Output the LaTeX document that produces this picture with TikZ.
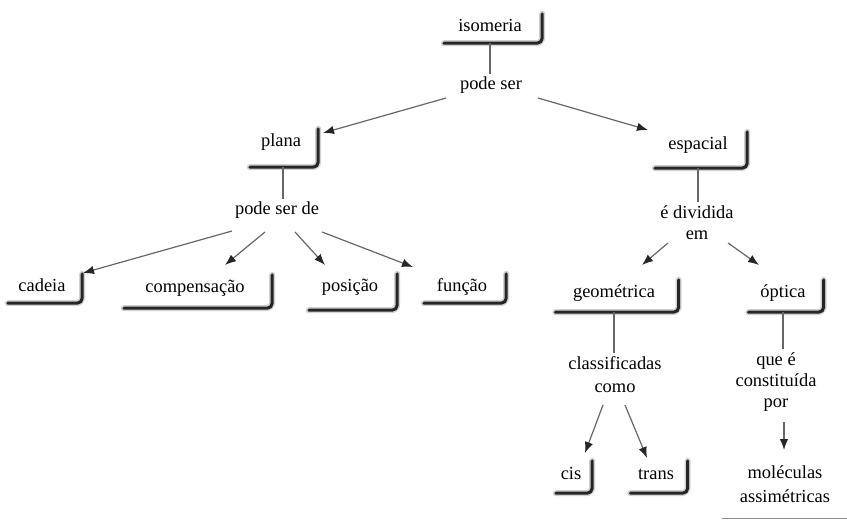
\documentclass[tikz,border=0pt]{standalone}
\usepackage{fontspec}
\setmainfont{Liberation Serif}
\usetikzlibrary{arrows.meta}
\begin{document}
\begin{tikzpicture}[x=1bp,y=-1bp,
  every node/.style={font=\fontsize{18.5}{22}\selectfont},
  box/.style 2 args={minimum width=#1, text height=18bp, text depth=#2, inner xsep=0pt, inner ysep=0pt, anchor=base},
  lbl/.style={align=center, anchor=base, inner sep=3bp},
  con/.style={draw=black!60, line width=1.2bp},
  arr/.style={con, -{Latex[length=11bp,width=8.5bp,color=black!85]}},
  shline/.style={line width=3bp, draw=black!85, rounded corners=5bp, line cap=round},
  shblur/.style={line width=6bp, draw=black!18, rounded corners=6bp, line cap=round},
]
\useasboundingbox (0,0) rectangle (847,521);

% boxes
\node[box={98bp}{11bp}]  (iso)    at (490,32)  {isomeria};
\node[box={68bp}{20bp}]  (plana)  at (281,147) {plana};
\node[box={74bp}{11bp}]  (cadeia) at (42,292)  {cadeia};
\node[box={148bp}{15bp}] (comp)   at (195,293) {compensação};
\node[box={88bp}{18bp}]  (pos)    at (350,292) {posição};
\node[box={82bp}{11bp}]  (func)   at (462,292) {função};
\node[box={92bp}{18bp}]  (esp)    at (698,150) {espacial};
\node[box={123bp}{14bp}] (geo)    at (614,298) {geométrica};
\node[box={75bp}{14bp}]  (opt)    at (783,298) {óptica};
\node[box={36bp}{14bp}]  (cis)    at (571,479) {cis};
\node[box={57bp}{14bp}]  (trans)  at (656,479) {trans};

\foreach \n in {iso,plana,cadeia,comp,pos,func,esp,geo,opt,cis,trans} {
  \draw[shblur] ([xshift=3bp]\n.south west) -- ([xshift=3bp]\n.south east) -- ([xshift=3bp]\n.north east);
  \draw[shline] ([xshift=3bp]\n.south west) -- ([xshift=3bp]\n.south east) -- ([xshift=3bp]\n.north east);
}

% linking phrases (anchor base = baseline of the last line)
\node[lbl] (ps)   at (491,90)  {pode ser};
\node[lbl] (psd)  at (277,215) {pode ser de};
\node[lbl] (ediv) at (697,240) {é dividida\\em};
\node[lbl,font=\fontsize{18.5}{23}\selectfont] (clas) at (615,392) {classificadas\\como};
\node[lbl,font=\fontsize{18.5}{21}\selectfont] (que)  at (776,407) {que é\\constituída\\por};
\node[lbl,font=\fontsize{18.5}{24}\selectfont] (mol)  at (785,502) {moléculas\\assimétricas};

% connectors
\draw[con] (iso.south) -- (iso.south |- ps.north);
\draw[arr] ([shift={(-45,8)}]ps.base) -- ([shift={(42,-14)}]plana.base);
\draw[arr] ([shift={(47,8)}]ps.base) -- ([shift={(-50,-20)}]esp.base);

\draw[con] ([xshift=2bp]plana.south) -- ([xshift=2bp]plana.south |- psd.north);
\draw[arr] ([shift={(-45,16)}]psd.base) -- ([shift={(41,-19)}]cadeia.base);
\draw[arr] ([shift={(-12,17)}]psd.base) -- ([shift={(30,-28)}]comp.base);
\draw[arr] ([shift={(18,17)}]psd.base) -- ([shift={(-25,-27)}]pos.base);
\draw[arr] ([shift={(45,17)}]psd.base) -- ([shift={(-49,-25)}]func.base);

\draw[con] (esp.south) -- (esp.south |- ediv.north);
\draw[arr] ([shift={(-29,3)}]ediv.base) -- ([shift={(28,-33)}]geo.base);
\draw[arr] ([shift={(31,3)}]ediv.base) -- ([shift={(-24,-33)}]opt.base);

\draw[con] (geo.south) -- (geo.south |- clas.north);
\draw[con] (opt.south) -- (opt.south |- que.north);
\draw[arr] ([shift={(-12,13)}]clas.base) -- ([shift={(14,-26)}]cis.base);
\draw[arr] ([shift={(10,13)}]clas.base) -- ([shift={(-9,-21)}]trans.base);
\draw[arr] ([shift={(8,15)}]que.base) -- ([shift={(-1,-52)}]mol.base);

% stray rule at the bottom right
\draw[black!45, line width=0.8bp] (722,518) -- (847,518);
\end{tikzpicture}
\end{document}
